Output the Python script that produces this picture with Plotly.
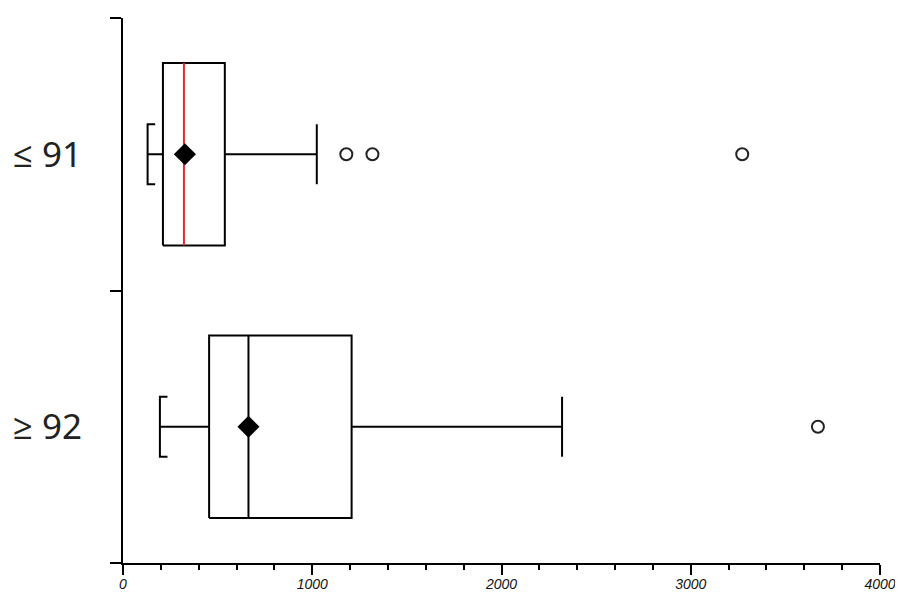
import plotly.graph_objects as go

# ---- data ----
groups = ["≤ 91", "≥ 92"]
group_pos = [1, 0]
q1 = [211, 455]
median = [322, 663]
q3 = [538, 1208]
lower_whisker = [130, 195]
upper_whisker = [1024, 2320]
means = [327, 663]
outliers = [[1180, 1318, 3272], [3672]]
x_ticks = [0, 1000, 2000, 3000, 4000]

# ---- styles ----
median_colors = ["#e8282b", "black"]
box_half = 0.335
cap_half = 0.11
bracket_len = 40
lw = 2

fig = go.Figure()
for i, c in enumerate(group_pos):
    # box
    fig.add_trace(go.Scatter(
        x=[q1[i], q3[i], q3[i], q1[i], q1[i]],
        y=[c - box_half, c - box_half, c + box_half, c + box_half, c - box_half],
        mode="lines", line=dict(color="black", width=lw)))
    # whiskers
    fig.add_trace(go.Scatter(
        x=[lower_whisker[i], q1[i], None, q3[i], upper_whisker[i]],
        y=[c, c, None, c, c],
        mode="lines", line=dict(color="black", width=lw)))
    # lower bracket cap
    fig.add_trace(go.Scatter(
        x=[lower_whisker[i] + bracket_len, lower_whisker[i], lower_whisker[i],
           lower_whisker[i] + bracket_len],
        y=[c + cap_half, c + cap_half, c - cap_half, c - cap_half],
        mode="lines", line=dict(color="black", width=lw)))
    # upper cap
    fig.add_trace(go.Scatter(
        x=[upper_whisker[i], upper_whisker[i]],
        y=[c - cap_half, c + cap_half],
        mode="lines", line=dict(color="black", width=lw)))
    # median
    fig.add_trace(go.Scatter(
        x=[median[i], median[i]],
        y=[c - box_half, c + box_half],
        mode="lines", line=dict(color=median_colors[i], width=lw)))
    # mean
    fig.add_trace(go.Scatter(
        x=[means[i]], y=[c], mode="markers",
        marker=dict(symbol="diamond", size=17, color="black")))
    # outliers
    fig.add_trace(go.Scatter(
        x=outliers[i], y=[c] * len(outliers[i]), mode="markers",
        marker=dict(symbol="circle-open", size=12,
                    line=dict(color="#222", width=2), color="#222")))

# page body adds an 8px offset, so the figure is sized to compensate
fig.update_layout(
    width=895, height=585,
    margin=dict(l=115, r=23, t=10, b=30, autoexpand=False),
    paper_bgcolor="white", plot_bgcolor="white",
    showlegend=False, hovermode=False,
    xaxis=dict(
        range=[0, 4000], showgrid=False, zeroline=False, automargin=False,
        showline=True, linecolor="black", linewidth=2,
        ticks="outside", ticklen=10, tickwidth=2, tickcolor="black",
        tickvals=x_ticks, ticktext=[str(v) for v in x_ticks],
        ticklabelstandoff=-3,
        tickfont=dict(family="Liberation Sans Narrow, Liberation Sans, Arial",
                      size=14, color="#111", style="italic"),
        minor=dict(dtick=200, ticks="outside", ticklen=5, tickwidth=2,
                   tickcolor="black", showgrid=False),
    ),
    yaxis=dict(
        range=[-0.5, 1.5], showgrid=False, zeroline=False, automargin=False,
        showline=True, linecolor="black", linewidth=2,
        tickvals=group_pos, ticktext=groups, ticks="",
        ticklabelstandoff=32,
        tickfont=dict(family="Noto Sans, Open Sans, sans-serif",
                      size=35, color="#222"),
        minor=dict(tickvals=[-0.5, 0.5, 1.5], ticks="outside", ticklen=11,
                   tickwidth=2, tickcolor="black", showgrid=False),
    ),
)

fig.write_html("out.html")
